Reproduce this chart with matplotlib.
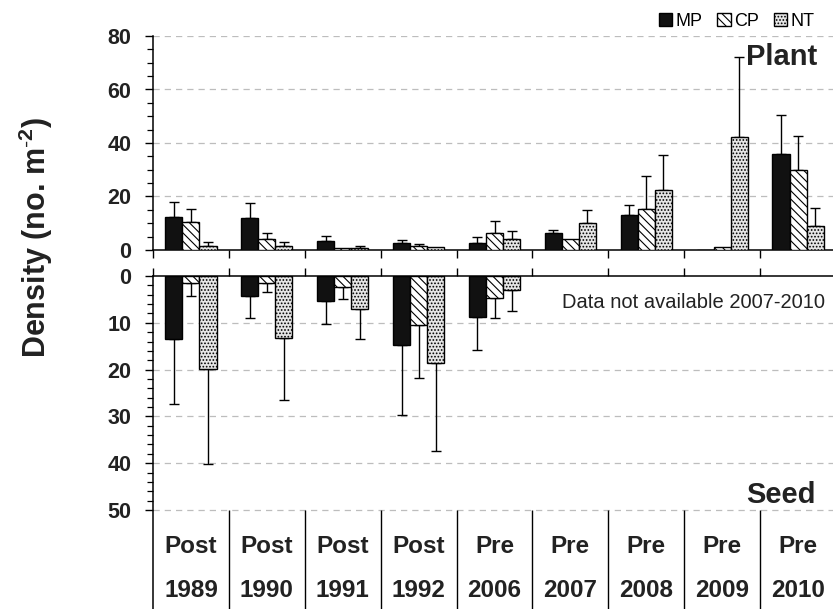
import numpy as np
import matplotlib.pyplot as plt
from matplotlib.ticker import FixedLocator

plt.rcParams['font.family'] = ['Liberation Sans', 'DejaVu Sans']
plt.rcParams['hatch.linewidth'] = 0.8
plt.rcParams['mathtext.fontset'] = 'custom'
plt.rcParams['mathtext.rm'] = 'Liberation Sans'
plt.rcParams['mathtext.bf'] = 'Liberation Sans:bold'

# data
periods = ['Post', 'Post', 'Post', 'Post', 'Pre', 'Pre', 'Pre', 'Pre', 'Pre']
years = ['1989', '1990', '1991', '1992', '2006', '2007', '2008', '2009', '2010']
series = ['MP', 'CP', 'NT']

plant_mp = [12.3, 11.8, 3.5, 2.6, 2.6, 6.4, 13.1, 0.0, 36.0]
plant_cp = [10.3, 4.0, 0.6, 1.6, 6.2, 4.0, 15.3, 1.1, 29.9]
plant_nt = [1.6, 1.6, 0.6, 1.0, 4.0, 10.0, 22.5, 42.2, 8.9]
plant_mp_err = [5.7, 5.6, 1.9, 1.1, 2.1, 1.1, 3.7, 0.0, 14.3]
plant_cp_err = [5.0, 2.4, 0.0, 0.8, 4.8, 0.0, 12.4, 0.0, 12.7]
plant_nt_err = [1.3, 1.3, 0.8, 0.0, 3.1, 4.8, 12.9, 30.1, 6.8]

seed_mp = [13.4, 4.3, 5.4, 14.8, 8.8]
seed_cp = [1.5, 1.5, 2.3, 10.5, 4.6]
seed_nt = [19.8, 13.3, 7.1, 18.5, 2.9]
seed_mp_err = [13.9, 4.7, 4.8, 15.0, 7.1]
seed_cp_err = [2.7, 2.0, 2.6, 11.2, 4.4]
seed_nt_err = [20.4, 13.3, 6.4, 18.9, 4.6]

styles = {
    'MP': dict(facecolor='#111111', hatch=None),
    'CP': dict(facecolor='white', hatch='\\\\\\\\'),
    'NT': dict(facecolor='#e6e6e6', hatch='.....'),
}

W, H = 833, 609
fig = plt.figure(figsize=(W / 100, H / 100), dpi=100)
left = 153 / W
width = (836 - 153) / W
ax1 = fig.add_axes([left, 1 - 250 / H, width, (250 - 36) / H])
ax2 = fig.add_axes([left, 0, width, 333 / H])

n = len(years)
x = np.arange(n)
bw = 0.225
offsets = [-bw, 0, bw]


def draw_bars(ax, vals, errs):
    handles = []
    for name, off, v, e in zip(series, offsets, vals, errs):
        xs = x[:len(v)] + off
        b = ax.bar(xs, v, bw, edgecolor='black', linewidth=1.0, zorder=3,
                   **styles[name], label=name)
        ev = np.array(e)
        keep = ev > 0
        low = np.zeros(keep.sum())
        ax.errorbar(xs[keep], np.array(v)[keep], yerr=[low, ev[keep]],
                    fmt='none', ecolor='black', elinewidth=1.0, capsize=3.5,
                    capthick=1.0, zorder=2)
        handles.append(b)
    return handles


handles = draw_bars(ax1, [plant_mp, plant_cp, plant_nt],
                    [plant_mp_err, plant_cp_err, plant_nt_err])
draw_bars(ax2, [seed_mp, seed_cp, seed_nt],
          [seed_mp_err, seed_cp_err, seed_nt_err])

bounds = np.arange(n + 1) - 0.5

# top panel
ax1.set_xlim(-0.5, n - 0.5)
ax1.set_ylim(0, 80)
ax1.yaxis.set_major_locator(FixedLocator([0, 20, 40, 60, 80]))
ax1.yaxis.set_minor_locator(FixedLocator(np.arange(0, 81, 5)))
ax1.set_xticks(bounds)
ax1.set_xticklabels([])
ax1.tick_params(axis='x', direction='out', length=6, width=1.0)
for v in [20, 40, 60, 80]:
    ax1.axhline(v, color='#bdbdbd', lw=0.9, ls=(0, (5, 4)), zorder=0)
for s in ['top', 'right']:
    ax1.spines[s].set_visible(False)

# bottom panel (inverted)
ax2.set_xlim(-0.5, n - 0.5)
ax2.set_ylim(333 / 4.68, 0)
ax2.yaxis.set_major_locator(FixedLocator([0, 10, 20, 30, 40, 50]))
ax2.yaxis.set_minor_locator(FixedLocator(np.arange(0, 51, 2)))
ax2.xaxis.tick_top()
ax2.set_xticks(bounds)
ax2.set_xticklabels([])
ax2.tick_params(axis='x', direction='out', length=6, width=1.0)
for v in [10, 20, 30, 40, 50]:
    ax2.axhline(v, color='#bdbdbd', lw=0.9, ls=(0, (5, 4)), zorder=0)
for s in ['bottom', 'right']:
    ax2.spines[s].set_visible(False)
ax2.vlines(bounds[1:-1], 50, 333 / 4.68, color='black', lw=1.0, zorder=4)

for ax in (ax1, ax2):
    for s in ax.spines.values():
        s.set_linewidth(1.1)
    ax.tick_params(axis='y', which='major', direction='out', length=6,
                   width=1.0, labelsize=15.5, pad=9.5)
    ax.tick_params(axis='y', which='minor', direction='out', length=4.5,
                   width=0.9)
    for lab in ax.get_yticklabels():
        lab.set_fontweight('bold')
        lab.set_color('#222222')

# category table labels under the seed panel
for i in range(n):
    ax2.text(x[i], 57.9, periods[i], ha='center', va='center', fontsize=17.5,
             fontweight='bold', color='#222222')
    ax2.text(x[i], 67.3, years[i], ha='center', va='center', fontsize=17.5,
             fontweight='bold', color='#222222')

ax1.text(0.973, 0.90, 'Plant', transform=ax1.transAxes, ha='right',
         va='center', fontsize=21, fontweight='bold', color='#222222')
ax2.text(0.97, 50 - 3.2, 'Seed', transform=ax2.get_yaxis_transform(),
         ha='right', va='center', fontsize=21, fontweight='bold',
         color='#222222')
ax2.text(0.984, 5.7, 'Data not available 2007-2010',
         transform=ax2.get_yaxis_transform(), ha='right', va='center',
         fontsize=14.5, color='#222222')

fig.text(0.043, 0.61, 'Density (no. m$^{\\mathbf{\\text{-}2}}$)', rotation=90,
         ha='center', va='center', fontsize=22, fontweight='bold',
         color='#222222')

leg = fig.legend(handles=handles, labels=series, loc='center right',
                 bbox_to_anchor=(0.986, 1 - 21 / H), ncol=3, frameon=False,
                 fontsize=13, handlelength=0.75, handleheight=0.75,
                 handletextpad=0.15, columnspacing=0.85, borderaxespad=0)

fig.savefig('out.png', dpi=100)
